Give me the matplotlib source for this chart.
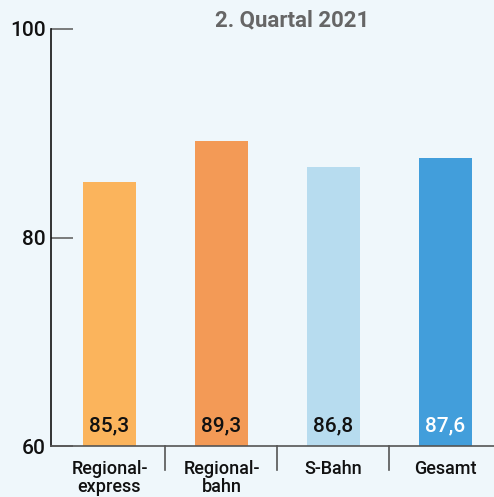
import matplotlib
matplotlib.use("Agg")
import matplotlib.pyplot as plt

categories = ["Regional-\nexpress", "Regional-\nbahn", "S-Bahn", "Gesamt"]
values = [85.3, 89.3, 86.8, 87.6]
value_labels = ["85,3", "89,3", "86,8", "87,6"]
colors = ["#fbb45c", "#f39a56", "#b7dcef", "#429edb"]
label_colors = ["#111111", "#111111", "#111111", "#ffffff"]
yticks = [60, 80, 100]
title = "2. Quartal 2021"

bg = "#eff7fb"
plt.rcParams['font.family'] = ['Roboto', 'DejaVu Sans']

fig = plt.figure(figsize=(4.94, 4.97), dpi=100, facecolor=bg)
ax = fig.add_axes([51/494, (497-446)/497, 1 - 51/494, (446-29)/497])
ax.set_facecolor(bg)

x = list(range(len(categories)))
ax.bar(x, [v - 60 for v in values], bottom=60, width=0.475, color=colors, zorder=2)
for xi, lab, c in zip(x, value_labels, label_colors):
    ax.text(xi, 61.0, lab, ha="center", va="bottom", fontsize=15, fontweight="medium",
            color=c, zorder=3)

ax.set_xlim(-0.522, 3.433)
ax.set_ylim(60, 100)

for s in ["top", "right"]:
    ax.spines[s].set_visible(False)
ax.spines["left"].set_color("#111111")
ax.spines["bottom"].set_color("#555555")
ax.spines["left"].set_linewidth(1.2)
ax.spines["bottom"].set_linewidth(1.2)

ax.set_yticks(yticks)
ax.set_yticklabels([str(t) for t in yticks], fontsize=15, fontweight="medium", color="#111111")
ax.tick_params(axis="y", direction="in", length=16, width=1.2, color="#666666", pad=4)
ax.set_xticks(x)
ax.set_xticklabels(categories, fontsize=13, fontweight="medium", color="#111111",
                   linespacing=1.0)
ax.tick_params(axis="x", length=0, pad=10)

# separators below axis
for sx in [0.5, 1.5, 2.5]:
    ax.plot([sx, sx], [60, 60 - 24 * 40 / 417], color="#555555", lw=1.2, clip_on=False)

fig.text(292/494, 1 - 20/497, title, ha="center", va="center", fontsize=16,
         fontweight="bold", color="#666666")

fig.savefig("out.png", dpi=100, facecolor=bg)
